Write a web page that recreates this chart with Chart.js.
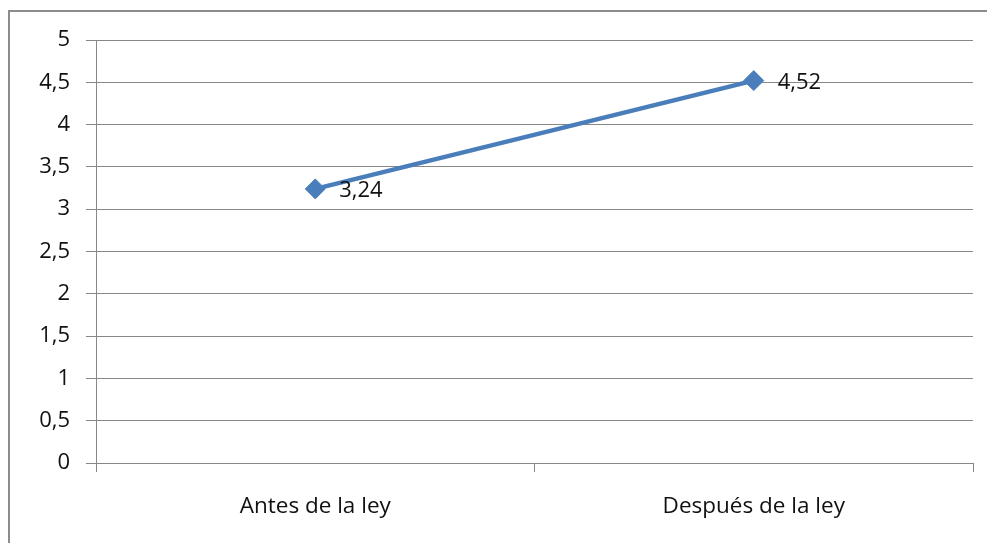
<!DOCTYPE html>
<html>
<head>
<meta charset="utf-8">
<script src="https://cdn.jsdelivr.net/npm/chart.js@4/dist/chart.umd.min.js"></script>
<style>
  html, body { margin: 0; padding: 0; background: #fff; }
  #wrap { width: 987px; height: 543px; position: relative; }
</style>
</head>
<body>
<div id="wrap"><canvas id="line-chart"></canvas></div>
<script>
const categories = ["Antes de la ley", "Después de la ley"];
const values = [3.24, 4.52];
const valueLabels = ["3,24", "4,52"];

const gridColor = "#878787";
const lineColor = "#4a7ebb";
const fontFamily = "'Open Sans', sans-serif";

// outer frame of the chart (only top and left are visible)
const framePlugin = {
  id: "frame",
  beforeDraw: function (chart) {
    const ctx = chart.ctx;
    ctx.save();
    ctx.strokeStyle = "#8c8c8c";
    ctx.lineWidth = 2;
    ctx.beginPath();
    ctx.moveTo(9, 543);
    ctx.lineTo(9, 11);
    ctx.lineTo(987, 11);
    ctx.stroke();
    ctx.restore();
  },
};

// value labels to the right of each point
const valueLabelPlugin = {
  id: "valueLabels",
  afterDatasetsDraw: function (chart) {
    const ctx = chart.ctx;
    const meta = chart.getDatasetMeta(0);
    ctx.save();
    ctx.font = "22px " + fontFamily;
    ctx.fillStyle = "#111";
    ctx.textAlign = "left";
    ctx.textBaseline = "middle";
    meta.data.forEach(function (pt, i) {
      ctx.fillText(valueLabels[i], pt.x + 24, pt.y + 2);
    });
    ctx.restore();
  },
};

new Chart("line-chart", {
  type: "line",
  data: {
    labels: categories,
    datasets: [
      {
        data: values,
        borderColor: lineColor,
        backgroundColor: lineColor,
        borderWidth: 4.5,
        pointStyle: "rectRot",
        pointRadius: 10,
        pointHoverRadius: 10,
        pointBorderWidth: 1,
        tension: 0,
      },
    ],
  },
  options: {
    responsive: true,
    maintainAspectRatio: false,
    animation: false,
    layout: {
      padding: { top: 40, right: 14, bottom: 0, left: 0 },
    },
    plugins: {
      legend: { display: false },
      tooltip: { enabled: false },
    },
    scales: {
      x: {
        offset: true,
        afterFit: function (scale) {
          scale.height = 80;
        },
        grid: {
          display: true,
          drawOnChartArea: false,
          drawTicks: true,
          tickLength: 9,
          color: gridColor,
          offset: true,
        },
        border: { color: gridColor, width: 1 },
        ticks: {
          color: "#111",
          padding: 21,
          font: { family: fontFamily, size: 22.5 },
        },
      },
      y: {
        min: 0,
        max: 5,
        afterFit: function (scale) {
          scale.width = 96;
        },
        grid: {
          color: gridColor,
          tickLength: 10,
        },
        border: { color: gridColor, width: 1 },
        ticks: {
          stepSize: 0.5,
          color: "#111",
          padding: 16,
          font: { family: fontFamily, size: 22 },
          callback: function (v) {
            return String(v).replace(".", ",");
          },
        },
      },
    },
  },
  plugins: [framePlugin, valueLabelPlugin],
});
</script>
</body>
</html>
